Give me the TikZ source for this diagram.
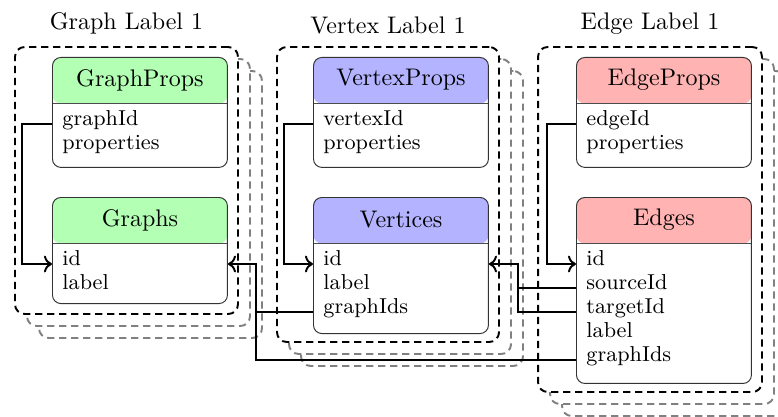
\documentclass[tikz,border=0pt]{standalone}
\usepackage{tikz}
\usetikzlibrary{positioning, calc, arrows.meta}
\definecolor{graphgreen}{RGB}{179, 255, 179}
\definecolor{vertexblue}{RGB}{179, 179, 255}
\definecolor{edgered}{RGB}{255, 179, 179}

\tikzset{
  group/.style={draw, thick, dash pattern=on 3pt off 2pt, rounded corners=4pt, fill=white, inner sep=0pt},
  tablebox/.style={draw=black!80, fill=white, rounded corners=3.5pt, minimum width=72.9pt, inner sep=0pt},
  field/.style={font=\small, anchor=west, inner sep=0pt, text height=5pt, text depth=3.4pt},
  link/.style={thick, ->},
}

% dashed group with two grey copies behind it
\newcommand{\layers}[4]{%
  \foreach \s in {2,1}
    \node[group, draw=gray, minimum width=#3, minimum height=#4] (#1-\s) at ($#2+(12*\s,12*\s)$) {};
  \node[group, minimum width=#3, minimum height=#4] (#1) at #2 {};
}

% table: name, top left, colour, title, height, rows
\newcommand{\dbtable}[6]{%
  \node[tablebox, minimum height=#5, anchor=north west,
        path picture={
          \fill[#3] (path picture bounding box.north west) rectangle ([yshift=-19.2pt]path picture bounding box.north east);
          \draw[black!70] ([yshift=-19.2pt]path picture bounding box.north west) -- ([yshift=-19.2pt]path picture bounding box.north east);
        }] (#1) at #2 {};
  \node (#1-h) at ([yshift=-9.6pt]#1.north) {#4};
  \foreach \key/\txt [count=\i] in {#6}
    \node[field] (#1-\key) at ($(#1.north west)+(10,{67+24*(\i-1)})$) {\txt};
}

\begin{document}
\begin{tikzpicture}[x=0.4167pt, y=-0.4167pt]
  \useasboundingbox (0,0) rectangle (778,416);

  % groups
  \layers{gbox}{(126.5,180.5)}{92.9pt}{111.25pt}
  \layers{vbox}{(388,194.5)}{92.5pt}{122.9pt}
  \layers{ebox}{(650,219.5)}{93.3pt}{143.75pt}

  \node[above=1.3pt of gbox] (glabel) {Graph Label 1};
  \node[above=1.3pt of vbox] (vlabel) {Vertex Label 1};
  \node[above=1.3pt of ebox] (elabel) {Edge Label 1};

  % tables
  \dbtable{gp}{(52,57)}{graphgreen}{GraphProps}{45.8pt}{gid/graphId, props/properties}
  \dbtable{g}{(52,197)}{graphgreen}{Graphs}{44.2pt}{id/id, lbl/label}
  \dbtable{vp}{(313,57)}{vertexblue}{VertexProps}{45.8pt}{vid/vertexId, props/properties}
  \dbtable{v}{(313,197)}{vertexblue}{Vertices}{56.7pt}{id/id, lbl/label, gids/graphIds}
  \dbtable{ep}{(576,57)}{edgered}{EdgeProps}{45.8pt}{eid/edgeId, props/properties}
  \dbtable{e}{(576,197)}{edgered}{Edges}{77.5pt}{id/id, src/sourceId, tgt/targetId, lbl/label, gids/graphIds}

  % connectors
  \draw[link] (gp-gid -| gp.west) -- ++(-30,0) |- (g-id -| g.west);
  \draw[link] (vp-vid -| vp.west) -- ++(-29,0) |- (v-id -| v.west);
  \draw[link] (ep-eid -| ep.west) -- ++(-29,0) |- (e-id -| e.west);

  \coordinate (gbus) at ($(g.east)+(28,0)$);
  \coordinate (vbus) at ($(v.east)+(29,0)$);
  \draw[link] (v-gids -| v.west) -| (gbus |- g-id) -- (g-id -| g.east);
  \draw[thick] (e-gids -| e.west) -| (gbus |- g-id);
  \draw[link] (e-src -| e.west) -| (vbus |- v-id) -- (v-id -| v.east);
  \draw[thick] (e-tgt -| e.west) -| (vbus |- v-id);
\end{tikzpicture}
\end{document}
